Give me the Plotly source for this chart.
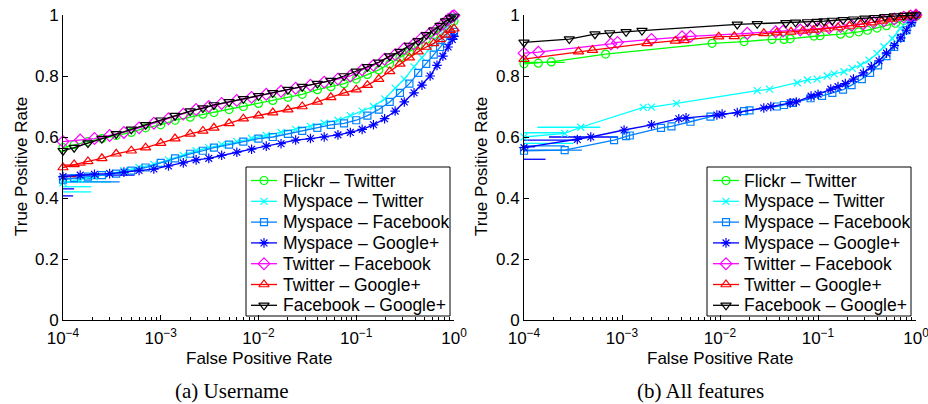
import plotly.graph_objects as go

# ---------------- data: (a) Username ----------------
a_fpr_grid1 = [1e-4, 1.3e-4, 1.8e-4, 2.5e-4, 3.5e-4, 5e-4, 7e-4, 1e-3, 1.4e-3, 2e-3, 2.7e-3, 3.5e-3,
               5e-3, 7e-3, 1e-2, 1.4e-2, 2e-2, 2.8e-2, 4e-2, 5.5e-2, 7.5e-2, 0.1, 0.13, 0.17, 0.22,
               0.28, 0.35, 0.43, 0.52, 0.62, 0.72, 0.82, 0.92, 1.0]
a_fpr_grid2 = [1e-4, 1.5e-4, 2.1e-4, 3e-4, 4.2e-4, 6e-4, 8.5e-4, 1.2e-3, 1.7e-3, 2.3e-3, 3.1e-3, 4.2e-3,
               6e-3, 8.5e-3, 1.2e-2, 1.7e-2, 2.4e-2, 3.4e-2, 4.7e-2, 6.5e-2, 8.7e-2, 0.115, 0.15, 0.195,
               0.25, 0.31, 0.39, 0.47, 0.57, 0.67, 0.77, 0.87, 0.96, 1.0]

a_tpr_flickr_twitter = [0.565, 0.575, 0.585, 0.595, 0.605, 0.615, 0.63, 0.64, 0.655, 0.665, 0.675, 0.68,
                        0.69, 0.70, 0.71, 0.72, 0.73, 0.74, 0.755, 0.765, 0.775, 0.79, 0.805, 0.82,
                        0.84, 0.86, 0.88, 0.90, 0.92, 0.935, 0.95, 0.965, 0.975, 0.98]
a_tpr_myspace_twitter = [0.45, 0.46, 0.47, 0.48, 0.49, 0.50, 0.51, 0.525, 0.54, 0.555, 0.565, 0.575,
                         0.585, 0.595, 0.605, 0.615, 0.625, 0.635, 0.645, 0.655, 0.67, 0.685, 0.70,
                         0.725, 0.76, 0.79, 0.83, 0.86, 0.89, 0.915, 0.94, 0.965, 0.99, 0.995]
a_tpr_myspace_facebook = [0.46, 0.465, 0.47, 0.475, 0.48, 0.49, 0.50, 0.515, 0.53, 0.545, 0.555, 0.565,
                          0.575, 0.585, 0.595, 0.60, 0.61, 0.62, 0.63, 0.64, 0.645, 0.655, 0.67, 0.69,
                          0.715, 0.745, 0.775, 0.81, 0.84, 0.87, 0.895, 0.915, 0.935, 0.945]
a_tpr_myspace_google = [0.47, 0.475, 0.478, 0.48, 0.485, 0.49, 0.495, 0.505, 0.515, 0.525, 0.53, 0.54,
                        0.55, 0.56, 0.57, 0.578, 0.59, 0.595, 0.60, 0.607, 0.615, 0.625, 0.64, 0.66,
                        0.685, 0.715, 0.745, 0.77, 0.80, 0.835, 0.865, 0.895, 0.92, 0.93]
a_tpr_twitter_facebook = [0.585, 0.59, 0.595, 0.605, 0.615, 0.63, 0.645, 0.66, 0.675, 0.69, 0.70, 0.71,
                          0.72, 0.73, 0.74, 0.75, 0.76, 0.77, 0.78, 0.79, 0.80, 0.82, 0.835, 0.855,
                          0.87, 0.89, 0.905, 0.925, 0.94, 0.955, 0.97, 0.985, 0.995, 0.998]
a_tpr_twitter_google = [0.50, 0.51, 0.52, 0.53, 0.545, 0.555, 0.565, 0.58, 0.595, 0.61, 0.62, 0.63,
                        0.645, 0.66, 0.67, 0.68, 0.69, 0.70, 0.715, 0.73, 0.745, 0.755, 0.77, 0.79,
                        0.815, 0.84, 0.86, 0.88, 0.895, 0.907, 0.92, 0.935, 0.95, 0.955]
a_tpr_facebook_google = [0.555, 0.565, 0.58, 0.595, 0.61, 0.625, 0.64, 0.655, 0.67, 0.685, 0.695, 0.705,
                         0.715, 0.725, 0.735, 0.745, 0.755, 0.765, 0.775, 0.785, 0.80, 0.815, 0.83,
                         0.845, 0.865, 0.88, 0.90, 0.915, 0.935, 0.95, 0.965, 0.98, 0.99, 0.995]

# short low-FPR steps (series index, tpr, fpr where the step ends)
a_stub_series = [1, 1, 1, 2, 2, 3, 3, 3, 5, 5]
a_stub_tpr = [0.453, 0.437, 0.42, 0.464, 0.453, 0.43, 0.407, 0.475, 0.508, 0.47]
a_stub_fpr = [3.1e-4, 1.95e-4, 1.95e-4, 2.3e-4, 3.8e-4, 1.3e-4, 1.27e-4, 5.4e-4, 1.7e-4, 1.5e-4]

# ---------------- data: (b) All features ----------------
b_fpr_flickr_twitter = [1e-4, 1.4e-4, 1.9e-4, 6.8e-4, 8.3e-3, 1.76e-2, 3.4e-2, 4.5e-2, 5.2e-2, 9.1e-2,
                        0.105, 0.17, 0.21, 0.26, 0.32, 0.4, 0.5, 0.62, 0.75, 0.88, 1.0]
b_tpr_flickr_twitter = [0.84, 0.842, 0.846, 0.872, 0.907, 0.913, 0.92, 0.92, 0.922, 0.931,
                        0.932, 0.937, 0.94, 0.945, 0.95, 0.957, 0.965, 0.973, 0.982, 0.99, 0.995]
b_fpr_myspace_twitter = [1e-4, 2.6e-4, 3.8e-4, 1.65e-3, 2.0e-3, 3.6e-3, 2.4e-2, 3.2e-2, 6.15e-2, 7.8e-2,
                         9.8e-2, 0.124, 0.146, 0.184, 0.224, 0.272, 0.331, 0.40, 0.47, 0.574, 0.69,
                         0.85, 1.0]
b_tpr_myspace_twitter = [0.60, 0.612, 0.632, 0.697, 0.698, 0.71, 0.752, 0.757, 0.778, 0.787,
                         0.79, 0.80, 0.807, 0.814, 0.825, 0.836, 0.852, 0.874, 0.896, 0.923, 0.956,
                         0.984, 1.0]
b_fpr_myspace_facebook = [1e-4, 2.6e-4, 8.3e-4, 1.1e-3, 1.2e-3, 2.5e-3, 3.2e-3, 5e-3, 8e-3, 1.76e-2,
                          2e-2, 3.8e-2, 4.5e-2, 5.5e-2, 8.4e-2, 0.11, 0.14, 0.18, 0.22, 0.28, 0.34,
                          0.41, 0.5, 0.6, 0.7, 0.8, 0.9, 1.0]
b_tpr_myspace_facebook = [0.555, 0.557, 0.59, 0.603, 0.605, 0.63, 0.635, 0.65, 0.667, 0.685,
                          0.687, 0.70, 0.705, 0.712, 0.727, 0.735, 0.745, 0.755, 0.77, 0.79, 0.81,
                          0.835, 0.865, 0.895, 0.925, 0.95, 0.975, 1.0]
b_fpr_myspace_google = [1e-4, 3.5e-4, 4.8e-4, 1.05e-3, 2e-3, 3.8e-3, 4.5e-3, 9.3e-3, 1.05e-2, 1.5e-2,
                        2.8e-2, 3.3e-2, 5.2e-2, 6e-2, 8.5e-2, 0.1, 0.135, 0.16, 0.19, 0.23, 0.29,
                        0.35, 0.42, 0.5, 0.6, 0.7, 0.8, 0.9, 1.0]
b_tpr_myspace_google = [0.565, 0.592, 0.60, 0.623, 0.64, 0.66, 0.663, 0.672, 0.675, 0.68,
                        0.695, 0.70, 0.712, 0.715, 0.734, 0.74, 0.757, 0.765, 0.775, 0.79, 0.81,
                        0.83, 0.85, 0.875, 0.90, 0.925, 0.95, 0.975, 1.0]
b_fpr_twitter_facebook = [1e-4, 1.4e-4, 7.7e-4, 9e-4, 2.0e-3, 4.1e-3, 5.0e-3, 1.9e-2, 3.7e-2, 4.4e-2,
                          6.6e-2, 8e-2, 0.1, 0.13, 0.17, 0.22, 0.29, 0.37, 0.47, 0.6, 0.75, 0.88, 1.0]
b_tpr_twitter_facebook = [0.875, 0.878, 0.905, 0.91, 0.92, 0.929, 0.93, 0.94, 0.945, 0.947,
                          0.951, 0.953, 0.955, 0.958, 0.962, 0.966, 0.971, 0.976, 0.981, 0.987, 0.993,
                          0.997, 1.0]
b_fpr_twitter_google = [1e-4, 3.6e-4, 5e-4, 1.8e-3, 3.5e-3, 4.3e-3, 9.7e-3, 1.4e-2, 2.8e-2, 3.8e-2,
                        5.3e-2, 7e-2, 9e-2, 0.12, 0.16, 0.21, 0.27, 0.35, 0.45, 0.57, 0.7, 0.85, 1.0]
b_tpr_twitter_google = [0.855, 0.88, 0.885, 0.907, 0.915, 0.917, 0.929, 0.93, 0.94, 0.942,
                        0.945, 0.948, 0.951, 0.955, 0.959, 0.964, 0.969, 0.975, 0.981, 0.987, 0.993,
                        0.998, 1.0]
b_fpr_facebook_google = [1e-4, 2.9e-4, 5.3e-4, 7.5e-4, 1.1e-3, 1.6e-3, 1.5e-2, 2.4e-2, 4.7e-2, 5.9e-2,
                         7.8e-2, 9.8e-2, 0.115, 0.14, 0.18, 0.23, 0.3, 0.38, 0.48, 0.6, 0.75, 0.88, 1.0]
b_tpr_facebook_google = [0.91, 0.921, 0.937, 0.941, 0.945, 0.949, 0.969, 0.971, 0.974, 0.976,
                         0.977, 0.978, 0.98, 0.982, 0.984, 0.986, 0.989, 0.991, 0.994, 0.996, 0.998,
                         0.999, 1.0]

b_stub_series = [0, 1, 1, 1, 2, 2, 3, 3, 3, 3]
b_stub_tpr = [0.845, 0.614, 0.632, 0.579, 0.557, 0.571, 0.59, 0.60, 0.527, 0.568]
b_stub_fpr = [2.6e-4, 2.6e-4, 6e-4, 3.2e-4, 3.9e-4, 2.6e-4, 3.5e-4, 8.9e-4, 1.66e-4, 1.3e-4]
b_stub_start = [1e-4, 1e-4, 1.37e-4, 1e-4, 1e-4, 1e-4, 1e-4, 1.8e-4, 1e-4, 1e-4]

series_names = ["Flickr – Twitter", "Myspace – Twitter", "Myspace – Facebook", "Myspace – Google+",
                "Twitter – Facebook", "Twitter – Google+", "Facebook – Google+"]
x_ticks = [1e-4, 1e-3, 1e-2, 1e-1, 1e0]
x_tick_text = ["10<sup>−4</sup>", "10<sup>−3</sup>", "10<sup>−2</sup>", "10<sup>−1</sup>", "10<sup>0</sup>"]
y_ticks = [0, 0.2, 0.4, 0.6, 0.8, 1]
y_tick_text = ["0", "0.2", "0.4", "0.6", "0.8", "1"]
captions = ["(a) Username", "(b) All features"]

# ---------------- styles ----------------
colors = ["#00ff00", "#00ffff", "#0080ff", "#0000ff", "#ff00ff", "#ff0000", "#000000"]
symbols = ["circle-open", "x-thin-open", "square-open", "asterisk-open", "diamond-open",
           "triangle-up-open", "triangle-down-open"]
sizes = [8, 7, 7, 8, 9, 9, 9]

a_x = [a_fpr_grid1, a_fpr_grid2, a_fpr_grid1, a_fpr_grid2, a_fpr_grid2, a_fpr_grid1, a_fpr_grid1]
a_y = [a_tpr_flickr_twitter, a_tpr_myspace_twitter, a_tpr_myspace_facebook, a_tpr_myspace_google,
       a_tpr_twitter_facebook, a_tpr_twitter_google, a_tpr_facebook_google]
b_x = [b_fpr_flickr_twitter, b_fpr_myspace_twitter, b_fpr_myspace_facebook, b_fpr_myspace_google,
       b_fpr_twitter_facebook, b_fpr_twitter_google, b_fpr_facebook_google]
b_y = [b_tpr_flickr_twitter, b_tpr_myspace_twitter, b_tpr_myspace_facebook, b_tpr_myspace_google,
       b_tpr_twitter_facebook, b_tpr_twitter_google, b_tpr_facebook_google]

W, H = 928, 404
FONT = "Liberation Sans, Arial, Helvetica, sans-serif"
LW = 1.3


def px_x(v):
    return v / W


def px_y(v):
    return 1 - v / H


fig = go.Figure()


def marker(i):
    return dict(symbol=symbols[i], size=sizes[i], color=colors[i], line=dict(color=colors[i], width=1.2))


# stubs first (under the main series)
for s, t, f in zip(a_stub_series, a_stub_tpr, a_stub_fpr):
    fig.add_trace(go.Scatter(x=[1e-4, f], y=[t, t], mode="lines", xaxis="x", yaxis="y",
                             line=dict(color=colors[s], width=LW), showlegend=False, hoverinfo="skip"))
for s, t, f, st in zip(b_stub_series, b_stub_tpr, b_stub_fpr, b_stub_start):
    fig.add_trace(go.Scatter(x=[st, f], y=[t, t], mode="lines", xaxis="x2", yaxis="y2",
                             line=dict(color=colors[s], width=LW), showlegend=False, hoverinfo="skip"))

for i, name in enumerate(series_names):
    fig.add_trace(go.Scatter(x=a_x[i], y=a_y[i], mode="lines+markers", name=name, xaxis="x", yaxis="y",
                             line=dict(color=colors[i], width=LW), marker=marker(i),
                             showlegend=False, cliponaxis=False))
for i, name in enumerate(series_names):
    fig.add_trace(go.Scatter(x=b_x[i], y=b_y[i], mode="lines+markers", name=name, xaxis="x2", yaxis="y2",
                             line=dict(color=colors[i], width=LW), marker=marker(i),
                             showlegend=False, cliponaxis=False))

# ---- hand-drawn MATLAB-style legends on a pixel overlay axis ----
legend_boxes = [(246, 167, 450, 316), (707, 167, 911, 316)]
legend_samples = [(251, 264, 277, 281), (713, 726, 739, 742)]  # line start, marker, line end, text x
row0, row_step = 180.5, 20.8
shapes = []
ann = []
for (bx0, by0, bx1, by1), (l0, lm, l1, tx) in zip(legend_boxes, legend_samples):
    shapes.append(dict(type="rect", xref="paper", yref="paper", x0=px_x(bx0), x1=px_x(bx1),
                       y0=px_y(by1), y1=px_y(by0), line=dict(color="black", width=1),
                       fillcolor="white", layer="below"))
    for i, name in enumerate(series_names):
        yc = row0 + row_step * i
        fig.add_trace(go.Scatter(x=[l0, l1], y=[yc, yc], mode="lines", xaxis="x3", yaxis="y3",
                                 line=dict(color=colors[i], width=LW), showlegend=False,
                                 hoverinfo="skip", cliponaxis=False))
        fig.add_trace(go.Scatter(x=[lm], y=[yc], mode="markers", xaxis="x3", yaxis="y3",
                                 marker=marker(i), showlegend=False, hoverinfo="skip", cliponaxis=False))
        ann.append(dict(text=name, x=px_x(tx), y=px_y(yc), xref="paper", yref="paper",
                        showarrow=False, xanchor="left", yanchor="middle",
                        font=dict(family=FONT, size=17.5, color="black")))

xdom1 = [px_x(63), px_x(454)]
xdom2 = [px_x(524), px_x(916)]
ydom = [px_y(320), px_y(15)]

xaxis_common = dict(type="log", range=[-4, 0], tickvals=x_ticks, ticktext=x_tick_text,
                    ticks="inside", ticklen=5, tickwidth=1, tickcolor="black", automargin=False,
                    ticklabelstandoff=3, ticklabeloverflow="allow",
                    showline=True, linecolor="black", linewidth=1, showgrid=False, zeroline=False,
                    tickfont=dict(family=FONT, size=17, color="black"),
                    minor=dict(ticks="inside", ticklen=3, tickwidth=1, tickcolor="black",
                               dtick="D1", showgrid=False))
yaxis_common = dict(range=[0, 1], tickvals=y_ticks, ticktext=y_tick_text, automargin=False,
                    ticks="inside", ticklen=5, tickwidth=1, tickcolor="black",
                    showline=True, linecolor="black", linewidth=1, showgrid=False, zeroline=False,
                    tickfont=dict(family=FONT, size=17, color="black"))

fig.update_layout(
    width=W, height=H, margin=dict(l=0, r=0, t=0, b=0, autoexpand=False),
    paper_bgcolor="white", plot_bgcolor="rgba(0,0,0,0)", showlegend=False,
    xaxis=dict(domain=xdom1, anchor="y", **xaxis_common),
    yaxis=dict(domain=ydom, anchor="x", **yaxis_common),
    xaxis2=dict(domain=xdom2, anchor="y2", **xaxis_common),
    yaxis2=dict(domain=ydom, anchor="x2", **yaxis_common),
    xaxis3=dict(domain=[0, 1], range=[0, W], visible=False, anchor="y3", fixedrange=True),
    yaxis3=dict(domain=[0, 1], range=[H, 0], visible=False, anchor="x3", fixedrange=True),
    font=dict(family=FONT, color="black"),
)

for cx in [(63 + 454) / 2, (524 + 916) / 2]:
    ann.append(dict(text="False Positive Rate", x=px_x(cx), y=px_y(358), xref="paper", yref="paper",
                    showarrow=False, xanchor="center", yanchor="middle",
                    font=dict(family=FONT, size=17, color="black")))
for cx in [22, 482]:
    ann.append(dict(text="True Positive Rate", x=px_x(cx), y=px_y(167), xref="paper", yref="paper",
                    showarrow=False, xanchor="center", yanchor="middle", textangle=-90,
                    font=dict(family=FONT, size=17, color="black")))
for cx, cap in zip([232, 700], captions):
    ann.append(dict(text=cap, x=px_x(cx), y=px_y(391), xref="paper", yref="paper",
                    showarrow=False, xanchor="center", yanchor="middle",
                    font=dict(family="Liberation Serif, Times New Roman, serif", size=21, color="black")))
fig.update_layout(annotations=ann, shapes=shapes)

fig.write_html("out.html")
